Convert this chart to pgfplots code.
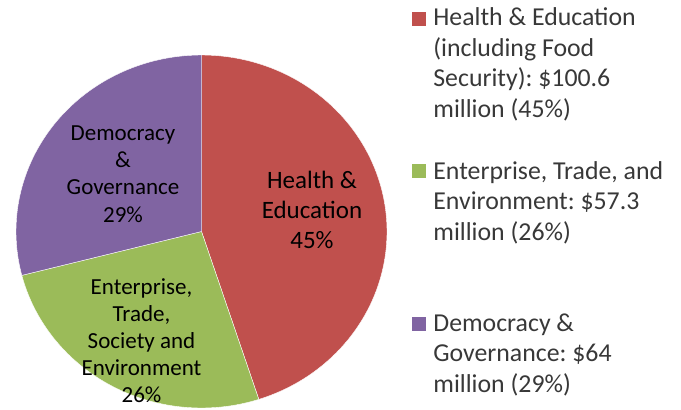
\documentclass[border=0pt]{standalone}
\usepackage{fontspec}
\setmainfont{Carlito}
\usepackage{pgfplots}
\usepackage{pgfplotstable}
\pgfplotsset{compat=1.18}
\definecolor{hered}{HTML}{C0504D}
\definecolor{etgreen}{HTML}{9BBB59}
\definecolor{dgpurple}{HTML}{8064A2}
\frenchspacing

% shares in percent, clockwise from 12 o'clock
\pgfplotstableread{
share
45
26
29
}\shares

\begin{document}
\begin{tikzpicture}
\pgfplotstablegetelem{0}{share}\of\shares \let\sa\pgfplotsretval
\pgfplotstablegetelem{1}{share}\of\shares \let\sb\pgfplotsretval
\pgfplotstablegetelem{2}{share}\of\shares \let\sc\pgfplotsretval
\pgfmathsetmacro{\aA}{90}
\pgfmathsetmacro{\aB}{\aA-3.6*\sa}
\pgfmathsetmacro{\aC}{\aB-3.6*\sb}
\pgfmathsetmacro{\aD}{\aC-3.6*\sc}
\begin{axis}[width=340.5pt,height=204.5pt,scale only axis,hide axis,
  xmin=0,xmax=681,ymin=0,ymax=409,clip=true]
\addplot[draw=white,line width=0.2pt,fill=hered,domain=\aB:\aA,samples=120,variable=\t]
  ({201.5+185.5*cos(\t)},{177.5+176.5*sin(\t)}) -- (201.5,177.5) -- cycle;
\addplot[draw=white,line width=0.2pt,fill=etgreen,domain=\aC:\aB,samples=80,variable=\t]
  ({201.5+185.5*cos(\t)},{177.5+176.5*sin(\t)}) -- (201.5,177.5) -- cycle;
\addplot[draw=white,line width=0.2pt,fill=dgpurple,domain=\aD:\aC,samples=80,variable=\t]
  ({201.5+185.5*cos(\t)},{177.5+176.5*sin(\t)}) -- (201.5,177.5) -- cycle;

% slice labels (anchored at the baseline of the last line)
\node[anchor=base,align=center,font=\fontsize{12.5pt}{15pt}\selectfont,inner sep=0pt] at (312,161)
  {Health \&\\Education\\45\%};
\node[anchor=base,align=center,font=\fontsize{11.5pt}{13.6pt}\selectfont,inner sep=0pt] at (123,187)
  {Democracy\\\&\\Governance\\29\%};
\node[anchor=base,align=center,font=\fontsize{11.5pt}{13.4pt}\selectfont,inner sep=0pt] at (141.5,7)
  {Enterprise,\\Trade,\\Society and\\Environment\\26\%};

% legend
\fill[hered] (412,383) rectangle (426,397);
\fill[etgreen] (412,231) rectangle (426,245);
\fill[dgpurple] (412,78) rectangle (426,92);
\begin{scope}[every node/.style={anchor=base west,align=left,inner sep=0pt,text=black!78,
  font=\fontsize{12.9pt}{15.25pt}\selectfont}]
\node at (433,292) {Health \& Education\\(including Food\\Security): \$100.6\\million (45\%)};
\node at (433,169) {Enterprise, Trade, and\\Environment: \$57.3\\million (26\%)};
\node at (433,17) {Democracy \&\\Governance: \$64\\million (29\%)};
\end{scope}
\end{axis}
\pgfresetboundingbox
\path (current axis.south west) rectangle (current axis.north east);
\end{tikzpicture}
\end{document}
